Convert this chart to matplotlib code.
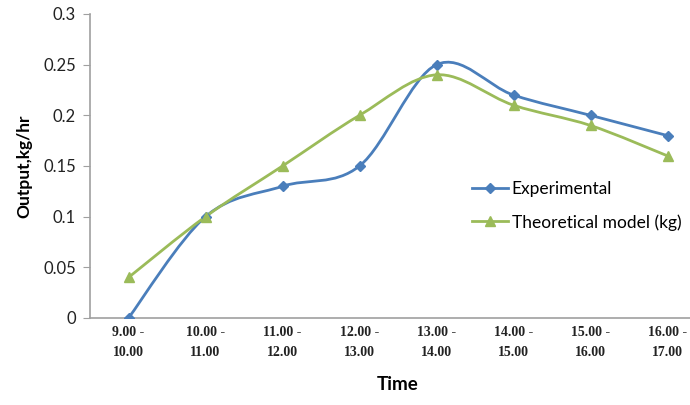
import numpy as np
import matplotlib
matplotlib.use('Agg')
import matplotlib.pyplot as plt
from matplotlib.path import Path
from matplotlib.patches import PathPatch
from matplotlib.lines import Line2D

# Данные с графика
time_labels = ['9.00 -\n10.00', '10.00 -\n11.00', '11.00 -\n12.00', '12.00 -\n13.00',
               '13.00 -\n14.00', '14.00 -\n15.00', '15.00 -\n16.00', '16.00 -\n17.00']
experimental = [0.0, 0.10, 0.13, 0.15, 0.25, 0.22, 0.20, 0.18]
theoretical = [0.04, 0.10, 0.15, 0.20, 0.24, 0.21, 0.19, 0.16]

blue = '#4a7ebb'
green = '#9bbb59'


def smooth_path(xs, ys):
    """Сглаженная линия как в Excel (Catmull-Rom -> Bezier)"""
    pts = np.column_stack([xs, ys]).astype(float)
    n = len(pts)
    verts = [pts[0]]
    codes = [Path.MOVETO]
    for i in range(n - 1):
        p0 = pts[i - 1] if i > 0 else pts[i]
        p1 = pts[i]
        p2 = pts[i + 1]
        p3 = pts[i + 2] if i + 2 < n else pts[i + 1]
        c1 = p1 + (p2 - p0) / 6.0
        c2 = p2 - (p3 - p1) / 6.0
        verts += [c1, c2, p2]
        codes += [Path.CURVE4] * 3
    return Path(verts, codes)


fig = plt.figure(figsize=(6.9, 4.05), dpi=100)
ax = fig.add_axes([90 / 690, 87 / 405, 8 * 77 / 690, 304 / 405])

x = np.arange(len(time_labels))

ax.add_patch(PathPatch(smooth_path(x, experimental), facecolor='none',
                       edgecolor=blue, lw=2, zorder=2))
ax.add_patch(PathPatch(smooth_path(x, theoretical), facecolor='none',
                       edgecolor=green, lw=2, zorder=2))
ax.plot(x, experimental, linestyle='none', marker='D', ms=5.5, color=blue, zorder=3)
ax.plot(x, theoretical, linestyle='none', marker='^', ms=7, color=green, zorder=3)

ax.set_xlim(-0.5, len(time_labels) - 0.5)
ax.set_ylim(0, 0.3)
ax.set_yticks([0, 0.05, 0.1, 0.15, 0.2, 0.25, 0.3])
ax.set_yticklabels(['0', '0.05', '0.1', '0.15', '0.2', '0.25', '0.3'],
                   fontfamily='Lato', fontsize=12, color='#222222')
ax.set_xticks(x)
ax.set_xticklabels(time_labels, fontfamily='Liberation Serif', fontweight='bold',
                   fontsize=10, color='#222222', linespacing=1.65)

for side in ['top', 'right']:
    ax.spines[side].set_visible(False)
for side in ['left', 'bottom']:
    ax.spines[side].set_color('#a0a0a0')
    ax.spines[side].set_linewidth(1.2)
ax.tick_params(axis='y', length=5, color='#a0a0a0', pad=5)
ax.tick_params(axis='x', length=0, pad=6)

ax.set_xlabel('Time', fontfamily='Lato', fontweight='bold', fontsize=13.5, labelpad=12)
ax.set_ylabel('Output,kg/hr', fontfamily='Lato', fontweight='bold', fontsize=12.5, labelpad=8)

handles = [Line2D([], [], color=blue, lw=2, marker='D', ms=5.5),
           Line2D([], [], color=green, lw=2, marker='^', ms=7)]
fig.legend(handles, ['Experimental', 'Theoretical model (kg)'], loc='upper left',
           bbox_to_anchor=(456 / 690, 1 - 165 / 405), frameon=False,
           prop={'family': 'Lato', 'size': 12.5}, handlelength=2.1,
           handletextpad=0.2, labelspacing=1.0)

plt.savefig('out.png', dpi=100)
